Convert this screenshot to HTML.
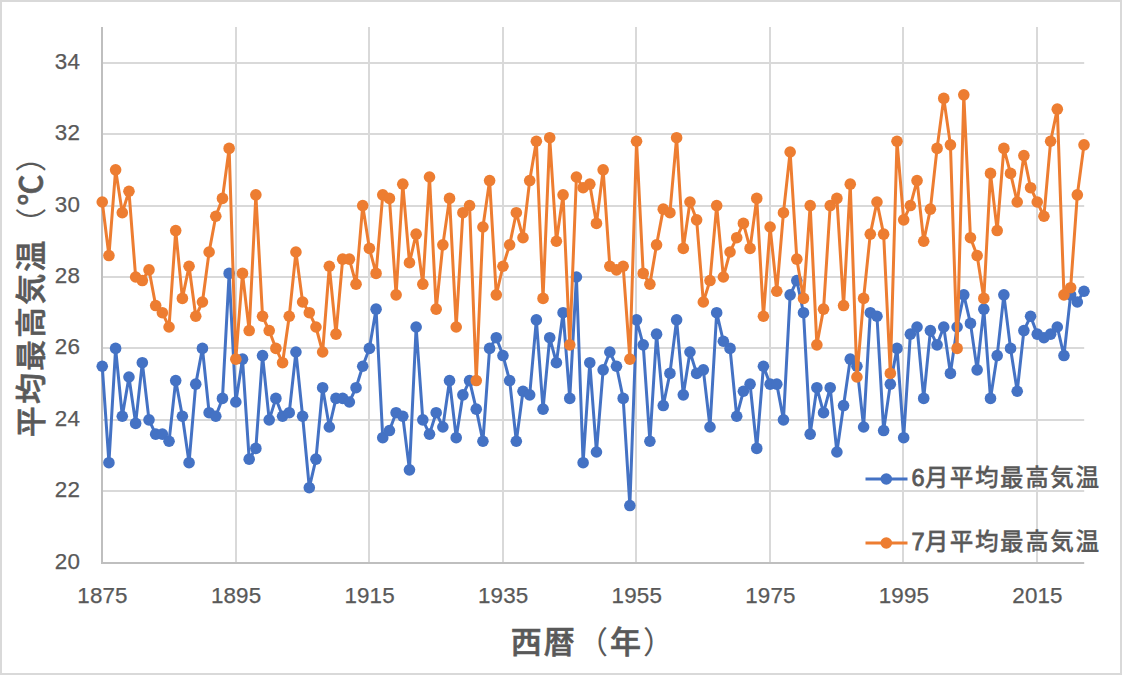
<!DOCTYPE html>
<html lang="ja"><head><meta charset="utf-8"><title>平均最高気温</title>
<style>
html,body{margin:0;padding:0;background:#fff;}
body{width:1122px;height:675px;overflow:hidden;}
svg{display:block;}
text{font-family:"Liberation Sans","Noto Sans CJK JP",sans-serif;fill:#595959;}
.num{font-size:22.4px;letter-spacing:0.15px;stroke:#595959;stroke-width:0.25px;}
.ttl{font-size:31px;font-weight:500;letter-spacing:2.1px;stroke:#595959;stroke-width:0.6px;}
.ttl .p{font-weight:400;stroke-width:0;}
.leg{font-size:23.6px;font-weight:500;letter-spacing:1.55px;stroke:#595959;stroke-width:0.3px;}
.leg .d{stroke-width:0.8px;letter-spacing:0;}
</style></head><body>
<svg width="1122" height="675" viewBox="0 0 1122 675">
<rect x="0" y="0" width="1122" height="675" fill="#fff"/>
<rect x="1" y="1" width="1120" height="673" fill="none" stroke="#D9D9D9" stroke-width="2"/>

<line x1="101.0" y1="491.0" x2="1084.2" y2="491.0" stroke="#D9D9D9" stroke-width="2"/>
<line x1="101.0" y1="420.0" x2="1084.2" y2="420.0" stroke="#D9D9D9" stroke-width="2"/>
<line x1="101.0" y1="348.0" x2="1084.2" y2="348.0" stroke="#D9D9D9" stroke-width="2"/>
<line x1="101.0" y1="277.0" x2="1084.2" y2="277.0" stroke="#D9D9D9" stroke-width="2"/>
<line x1="101.0" y1="206.0" x2="1084.2" y2="206.0" stroke="#D9D9D9" stroke-width="2"/>
<line x1="101.0" y1="134.0" x2="1084.2" y2="134.0" stroke="#D9D9D9" stroke-width="2"/>
<line x1="101.0" y1="63.0" x2="1084.2" y2="63.0" stroke="#D9D9D9" stroke-width="2"/>
<line x1="236.0" y1="27" x2="236.0" y2="562" stroke="#D9D9D9" stroke-width="2"/>
<line x1="369.0" y1="27" x2="369.0" y2="562" stroke="#D9D9D9" stroke-width="2"/>
<line x1="503.0" y1="27" x2="503.0" y2="562" stroke="#D9D9D9" stroke-width="2"/>
<line x1="636.0" y1="27" x2="636.0" y2="562" stroke="#D9D9D9" stroke-width="2"/>
<line x1="770.0" y1="27" x2="770.0" y2="562" stroke="#D9D9D9" stroke-width="2"/>
<line x1="903.0" y1="27" x2="903.0" y2="562" stroke="#D9D9D9" stroke-width="2"/>
<line x1="1037.0" y1="27" x2="1037.0" y2="562" stroke="#D9D9D9" stroke-width="2"/>
<line x1="102.0" y1="27" x2="102.0" y2="564" stroke="#BFBFBF" stroke-width="2"/>
<line x1="101.0" y1="563" x2="1084.2" y2="563" stroke="#BFBFBF" stroke-width="2"/>
<text class="num" x="80.0" y="569.3" text-anchor="end">20</text>
<text class="num" x="80.0" y="497.3" text-anchor="end">22</text>
<text class="num" x="80.0" y="426.3" text-anchor="end">24</text>
<text class="num" x="80.0" y="354.3" text-anchor="end">26</text>
<text class="num" x="80.0" y="283.3" text-anchor="end">28</text>
<text class="num" x="80.0" y="212.3" text-anchor="end">30</text>
<text class="num" x="80.0" y="140.3" text-anchor="end">32</text>
<text class="num" x="80.0" y="69.3" text-anchor="end">34</text>
<text class="num" x="102.5" y="602.6" text-anchor="middle">1875</text>
<text class="num" x="236.1" y="602.6" text-anchor="middle">1895</text>
<text class="num" x="369.6" y="602.6" text-anchor="middle">1915</text>
<text class="num" x="503.2" y="602.6" text-anchor="middle">1935</text>
<text class="num" x="636.8" y="602.6" text-anchor="middle">1955</text>
<text class="num" x="770.4" y="602.6" text-anchor="middle">1975</text>
<text class="num" x="903.9" y="602.6" text-anchor="middle">1995</text>
<text class="num" x="1037.5" y="602.6" text-anchor="middle">2015</text>
<polyline points="102.25,366.27 108.93,462.70 115.61,348.41 122.29,416.27 128.96,376.99 135.64,423.41 142.32,362.70 149.00,419.84 155.68,434.13 162.36,434.13 169.04,441.27 175.71,380.56 182.39,416.27 189.07,462.70 195.75,384.13 202.43,348.41 209.11,412.70 215.79,416.27 222.46,398.41 229.14,273.41 235.82,401.99 242.50,359.13 249.18,459.13 255.86,448.41 262.54,355.56 269.21,419.84 275.89,398.41 282.57,416.27 289.25,412.70 295.93,351.99 302.61,416.27 309.29,487.70 315.96,459.13 322.64,387.70 329.32,426.99 336.00,398.41 342.68,398.41 349.36,401.99 356.04,387.70 362.71,366.27 369.39,348.41 376.07,309.13 382.75,437.70 389.43,430.56 396.11,412.70 402.79,416.27 409.46,469.84 416.14,326.99 422.82,419.84 429.50,434.13 436.18,412.70 442.86,426.99 449.54,380.56 456.21,437.70 462.89,394.84 469.57,380.56 476.25,409.13 482.93,441.27 489.61,348.41 496.29,337.70 502.96,355.56 509.64,380.56 516.32,441.27 523.00,391.27 529.68,394.84 536.36,319.84 543.04,409.13 549.71,337.70 556.39,362.70 563.07,312.70 569.75,398.41 576.43,276.99 583.11,462.70 589.79,362.70 596.46,451.99 603.14,369.84 609.82,351.99 616.50,366.27 623.18,398.41 629.86,505.56 636.54,319.84 643.21,344.84 649.89,441.27 656.57,334.13 663.25,405.56 669.93,373.41 676.61,319.84 683.29,394.84 689.96,351.99 696.64,373.41 703.32,369.84 710.00,426.99 716.68,312.70 723.36,341.27 730.04,348.41 736.71,416.27 743.39,391.27 750.07,384.13 756.75,448.41 763.43,366.27 770.11,384.13 776.79,384.13 783.46,419.84 790.14,294.84 796.82,280.56 803.50,312.70 810.18,434.13 816.86,387.70 823.54,412.70 830.21,387.70 836.89,451.99 843.57,405.56 850.25,359.13 856.93,366.27 863.61,426.99 870.29,312.70 876.96,316.27 883.64,430.56 890.32,384.13 897.00,348.41 903.68,437.70 910.36,334.13 917.04,326.99 923.71,398.41 930.39,330.56 937.07,344.84 943.75,326.99 950.43,373.41 957.11,326.99 963.79,294.84 970.46,323.41 977.14,369.84 983.82,309.13 990.50,398.41 997.18,355.56 1003.86,294.84 1010.54,348.41 1017.21,391.27 1023.89,330.56 1030.57,316.27 1037.25,334.13 1043.93,337.70 1050.61,334.13 1057.29,326.99 1063.96,355.56 1070.64,294.84 1077.32,301.99 1084.00,291.27" fill="none" stroke="#4472C4" stroke-width="3" stroke-linejoin="round" stroke-linecap="round"/>
<g fill="#4472C4">
<circle cx="102.25" cy="366.27" r="5.8"/>
<circle cx="108.93" cy="462.70" r="5.8"/>
<circle cx="115.61" cy="348.41" r="5.8"/>
<circle cx="122.29" cy="416.27" r="5.8"/>
<circle cx="128.96" cy="376.99" r="5.8"/>
<circle cx="135.64" cy="423.41" r="5.8"/>
<circle cx="142.32" cy="362.70" r="5.8"/>
<circle cx="149.00" cy="419.84" r="5.8"/>
<circle cx="155.68" cy="434.13" r="5.8"/>
<circle cx="162.36" cy="434.13" r="5.8"/>
<circle cx="169.04" cy="441.27" r="5.8"/>
<circle cx="175.71" cy="380.56" r="5.8"/>
<circle cx="182.39" cy="416.27" r="5.8"/>
<circle cx="189.07" cy="462.70" r="5.8"/>
<circle cx="195.75" cy="384.13" r="5.8"/>
<circle cx="202.43" cy="348.41" r="5.8"/>
<circle cx="209.11" cy="412.70" r="5.8"/>
<circle cx="215.79" cy="416.27" r="5.8"/>
<circle cx="222.46" cy="398.41" r="5.8"/>
<circle cx="229.14" cy="273.41" r="5.8"/>
<circle cx="235.82" cy="401.99" r="5.8"/>
<circle cx="242.50" cy="359.13" r="5.8"/>
<circle cx="249.18" cy="459.13" r="5.8"/>
<circle cx="255.86" cy="448.41" r="5.8"/>
<circle cx="262.54" cy="355.56" r="5.8"/>
<circle cx="269.21" cy="419.84" r="5.8"/>
<circle cx="275.89" cy="398.41" r="5.8"/>
<circle cx="282.57" cy="416.27" r="5.8"/>
<circle cx="289.25" cy="412.70" r="5.8"/>
<circle cx="295.93" cy="351.99" r="5.8"/>
<circle cx="302.61" cy="416.27" r="5.8"/>
<circle cx="309.29" cy="487.70" r="5.8"/>
<circle cx="315.96" cy="459.13" r="5.8"/>
<circle cx="322.64" cy="387.70" r="5.8"/>
<circle cx="329.32" cy="426.99" r="5.8"/>
<circle cx="336.00" cy="398.41" r="5.8"/>
<circle cx="342.68" cy="398.41" r="5.8"/>
<circle cx="349.36" cy="401.99" r="5.8"/>
<circle cx="356.04" cy="387.70" r="5.8"/>
<circle cx="362.71" cy="366.27" r="5.8"/>
<circle cx="369.39" cy="348.41" r="5.8"/>
<circle cx="376.07" cy="309.13" r="5.8"/>
<circle cx="382.75" cy="437.70" r="5.8"/>
<circle cx="389.43" cy="430.56" r="5.8"/>
<circle cx="396.11" cy="412.70" r="5.8"/>
<circle cx="402.79" cy="416.27" r="5.8"/>
<circle cx="409.46" cy="469.84" r="5.8"/>
<circle cx="416.14" cy="326.99" r="5.8"/>
<circle cx="422.82" cy="419.84" r="5.8"/>
<circle cx="429.50" cy="434.13" r="5.8"/>
<circle cx="436.18" cy="412.70" r="5.8"/>
<circle cx="442.86" cy="426.99" r="5.8"/>
<circle cx="449.54" cy="380.56" r="5.8"/>
<circle cx="456.21" cy="437.70" r="5.8"/>
<circle cx="462.89" cy="394.84" r="5.8"/>
<circle cx="469.57" cy="380.56" r="5.8"/>
<circle cx="476.25" cy="409.13" r="5.8"/>
<circle cx="482.93" cy="441.27" r="5.8"/>
<circle cx="489.61" cy="348.41" r="5.8"/>
<circle cx="496.29" cy="337.70" r="5.8"/>
<circle cx="502.96" cy="355.56" r="5.8"/>
<circle cx="509.64" cy="380.56" r="5.8"/>
<circle cx="516.32" cy="441.27" r="5.8"/>
<circle cx="523.00" cy="391.27" r="5.8"/>
<circle cx="529.68" cy="394.84" r="5.8"/>
<circle cx="536.36" cy="319.84" r="5.8"/>
<circle cx="543.04" cy="409.13" r="5.8"/>
<circle cx="549.71" cy="337.70" r="5.8"/>
<circle cx="556.39" cy="362.70" r="5.8"/>
<circle cx="563.07" cy="312.70" r="5.8"/>
<circle cx="569.75" cy="398.41" r="5.8"/>
<circle cx="576.43" cy="276.99" r="5.8"/>
<circle cx="583.11" cy="462.70" r="5.8"/>
<circle cx="589.79" cy="362.70" r="5.8"/>
<circle cx="596.46" cy="451.99" r="5.8"/>
<circle cx="603.14" cy="369.84" r="5.8"/>
<circle cx="609.82" cy="351.99" r="5.8"/>
<circle cx="616.50" cy="366.27" r="5.8"/>
<circle cx="623.18" cy="398.41" r="5.8"/>
<circle cx="629.86" cy="505.56" r="5.8"/>
<circle cx="636.54" cy="319.84" r="5.8"/>
<circle cx="643.21" cy="344.84" r="5.8"/>
<circle cx="649.89" cy="441.27" r="5.8"/>
<circle cx="656.57" cy="334.13" r="5.8"/>
<circle cx="663.25" cy="405.56" r="5.8"/>
<circle cx="669.93" cy="373.41" r="5.8"/>
<circle cx="676.61" cy="319.84" r="5.8"/>
<circle cx="683.29" cy="394.84" r="5.8"/>
<circle cx="689.96" cy="351.99" r="5.8"/>
<circle cx="696.64" cy="373.41" r="5.8"/>
<circle cx="703.32" cy="369.84" r="5.8"/>
<circle cx="710.00" cy="426.99" r="5.8"/>
<circle cx="716.68" cy="312.70" r="5.8"/>
<circle cx="723.36" cy="341.27" r="5.8"/>
<circle cx="730.04" cy="348.41" r="5.8"/>
<circle cx="736.71" cy="416.27" r="5.8"/>
<circle cx="743.39" cy="391.27" r="5.8"/>
<circle cx="750.07" cy="384.13" r="5.8"/>
<circle cx="756.75" cy="448.41" r="5.8"/>
<circle cx="763.43" cy="366.27" r="5.8"/>
<circle cx="770.11" cy="384.13" r="5.8"/>
<circle cx="776.79" cy="384.13" r="5.8"/>
<circle cx="783.46" cy="419.84" r="5.8"/>
<circle cx="790.14" cy="294.84" r="5.8"/>
<circle cx="796.82" cy="280.56" r="5.8"/>
<circle cx="803.50" cy="312.70" r="5.8"/>
<circle cx="810.18" cy="434.13" r="5.8"/>
<circle cx="816.86" cy="387.70" r="5.8"/>
<circle cx="823.54" cy="412.70" r="5.8"/>
<circle cx="830.21" cy="387.70" r="5.8"/>
<circle cx="836.89" cy="451.99" r="5.8"/>
<circle cx="843.57" cy="405.56" r="5.8"/>
<circle cx="850.25" cy="359.13" r="5.8"/>
<circle cx="856.93" cy="366.27" r="5.8"/>
<circle cx="863.61" cy="426.99" r="5.8"/>
<circle cx="870.29" cy="312.70" r="5.8"/>
<circle cx="876.96" cy="316.27" r="5.8"/>
<circle cx="883.64" cy="430.56" r="5.8"/>
<circle cx="890.32" cy="384.13" r="5.8"/>
<circle cx="897.00" cy="348.41" r="5.8"/>
<circle cx="903.68" cy="437.70" r="5.8"/>
<circle cx="910.36" cy="334.13" r="5.8"/>
<circle cx="917.04" cy="326.99" r="5.8"/>
<circle cx="923.71" cy="398.41" r="5.8"/>
<circle cx="930.39" cy="330.56" r="5.8"/>
<circle cx="937.07" cy="344.84" r="5.8"/>
<circle cx="943.75" cy="326.99" r="5.8"/>
<circle cx="950.43" cy="373.41" r="5.8"/>
<circle cx="957.11" cy="326.99" r="5.8"/>
<circle cx="963.79" cy="294.84" r="5.8"/>
<circle cx="970.46" cy="323.41" r="5.8"/>
<circle cx="977.14" cy="369.84" r="5.8"/>
<circle cx="983.82" cy="309.13" r="5.8"/>
<circle cx="990.50" cy="398.41" r="5.8"/>
<circle cx="997.18" cy="355.56" r="5.8"/>
<circle cx="1003.86" cy="294.84" r="5.8"/>
<circle cx="1010.54" cy="348.41" r="5.8"/>
<circle cx="1017.21" cy="391.27" r="5.8"/>
<circle cx="1023.89" cy="330.56" r="5.8"/>
<circle cx="1030.57" cy="316.27" r="5.8"/>
<circle cx="1037.25" cy="334.13" r="5.8"/>
<circle cx="1043.93" cy="337.70" r="5.8"/>
<circle cx="1050.61" cy="334.13" r="5.8"/>
<circle cx="1057.29" cy="326.99" r="5.8"/>
<circle cx="1063.96" cy="355.56" r="5.8"/>
<circle cx="1070.64" cy="294.84" r="5.8"/>
<circle cx="1077.32" cy="301.99" r="5.8"/>
<circle cx="1084.00" cy="291.27" r="5.8"/>
</g>
<polyline points="102.25,201.99 108.93,255.56 115.61,169.84 122.29,212.70 128.96,191.27 135.64,276.99 142.32,280.56 149.00,269.84 155.68,305.56 162.36,312.70 169.04,326.99 175.71,230.56 182.39,298.41 189.07,266.27 195.75,316.27 202.43,301.99 209.11,251.99 215.79,216.27 222.46,198.41 229.14,148.41 235.82,359.13 242.50,273.41 249.18,330.56 255.86,194.84 262.54,316.27 269.21,330.56 275.89,348.41 282.57,362.70 289.25,316.27 295.93,251.99 302.61,301.99 309.29,312.70 315.96,326.99 322.64,351.99 329.32,266.27 336.00,334.13 342.68,259.13 349.36,259.13 356.04,284.13 362.71,205.56 369.39,248.41 376.07,273.41 382.75,194.84 389.43,198.41 396.11,294.84 402.79,184.13 409.46,262.70 416.14,234.13 422.82,284.13 429.50,176.99 436.18,309.13 442.86,244.84 449.54,198.41 456.21,326.99 462.89,212.70 469.57,205.56 476.25,380.56 482.93,226.99 489.61,180.56 496.29,294.84 502.96,266.27 509.64,244.84 516.32,212.70 523.00,237.70 529.68,180.56 536.36,141.27 543.04,298.41 549.71,137.70 556.39,241.27 563.07,194.84 569.75,344.84 576.43,176.99 583.11,187.70 589.79,184.13 596.46,223.41 603.14,169.84 609.82,266.27 616.50,269.84 623.18,266.27 629.86,359.13 636.54,141.27 643.21,273.41 649.89,284.13 656.57,244.84 663.25,209.13 669.93,212.70 676.61,137.70 683.29,248.41 689.96,201.99 696.64,219.84 703.32,301.99 710.00,280.56 716.68,205.56 723.36,276.99 730.04,251.99 736.71,237.70 743.39,223.41 750.07,248.41 756.75,198.41 763.43,316.27 770.11,226.99 776.79,291.27 783.46,212.70 790.14,151.99 796.82,259.13 803.50,298.41 810.18,205.56 816.86,344.84 823.54,309.13 830.21,205.56 836.89,198.41 843.57,305.56 850.25,184.13 856.93,376.99 863.61,298.41 870.29,234.13 876.96,201.99 883.64,234.13 890.32,373.41 897.00,141.27 903.68,219.84 910.36,205.56 917.04,180.56 923.71,241.27 930.39,209.13 937.07,148.41 943.75,98.41 950.43,144.84 957.11,348.41 963.79,94.84 970.46,237.70 977.14,255.56 983.82,298.41 990.50,173.41 997.18,230.56 1003.86,148.41 1010.54,173.41 1017.21,201.99 1023.89,155.56 1030.57,187.70 1037.25,201.99 1043.93,216.27 1050.61,141.27 1057.29,109.13 1063.96,294.84 1070.64,287.70 1077.32,194.84 1084.00,144.84" fill="none" stroke="#ED7D31" stroke-width="3" stroke-linejoin="round" stroke-linecap="round"/>
<g fill="#ED7D31">
<circle cx="102.25" cy="201.99" r="5.8"/>
<circle cx="108.93" cy="255.56" r="5.8"/>
<circle cx="115.61" cy="169.84" r="5.8"/>
<circle cx="122.29" cy="212.70" r="5.8"/>
<circle cx="128.96" cy="191.27" r="5.8"/>
<circle cx="135.64" cy="276.99" r="5.8"/>
<circle cx="142.32" cy="280.56" r="5.8"/>
<circle cx="149.00" cy="269.84" r="5.8"/>
<circle cx="155.68" cy="305.56" r="5.8"/>
<circle cx="162.36" cy="312.70" r="5.8"/>
<circle cx="169.04" cy="326.99" r="5.8"/>
<circle cx="175.71" cy="230.56" r="5.8"/>
<circle cx="182.39" cy="298.41" r="5.8"/>
<circle cx="189.07" cy="266.27" r="5.8"/>
<circle cx="195.75" cy="316.27" r="5.8"/>
<circle cx="202.43" cy="301.99" r="5.8"/>
<circle cx="209.11" cy="251.99" r="5.8"/>
<circle cx="215.79" cy="216.27" r="5.8"/>
<circle cx="222.46" cy="198.41" r="5.8"/>
<circle cx="229.14" cy="148.41" r="5.8"/>
<circle cx="235.82" cy="359.13" r="5.8"/>
<circle cx="242.50" cy="273.41" r="5.8"/>
<circle cx="249.18" cy="330.56" r="5.8"/>
<circle cx="255.86" cy="194.84" r="5.8"/>
<circle cx="262.54" cy="316.27" r="5.8"/>
<circle cx="269.21" cy="330.56" r="5.8"/>
<circle cx="275.89" cy="348.41" r="5.8"/>
<circle cx="282.57" cy="362.70" r="5.8"/>
<circle cx="289.25" cy="316.27" r="5.8"/>
<circle cx="295.93" cy="251.99" r="5.8"/>
<circle cx="302.61" cy="301.99" r="5.8"/>
<circle cx="309.29" cy="312.70" r="5.8"/>
<circle cx="315.96" cy="326.99" r="5.8"/>
<circle cx="322.64" cy="351.99" r="5.8"/>
<circle cx="329.32" cy="266.27" r="5.8"/>
<circle cx="336.00" cy="334.13" r="5.8"/>
<circle cx="342.68" cy="259.13" r="5.8"/>
<circle cx="349.36" cy="259.13" r="5.8"/>
<circle cx="356.04" cy="284.13" r="5.8"/>
<circle cx="362.71" cy="205.56" r="5.8"/>
<circle cx="369.39" cy="248.41" r="5.8"/>
<circle cx="376.07" cy="273.41" r="5.8"/>
<circle cx="382.75" cy="194.84" r="5.8"/>
<circle cx="389.43" cy="198.41" r="5.8"/>
<circle cx="396.11" cy="294.84" r="5.8"/>
<circle cx="402.79" cy="184.13" r="5.8"/>
<circle cx="409.46" cy="262.70" r="5.8"/>
<circle cx="416.14" cy="234.13" r="5.8"/>
<circle cx="422.82" cy="284.13" r="5.8"/>
<circle cx="429.50" cy="176.99" r="5.8"/>
<circle cx="436.18" cy="309.13" r="5.8"/>
<circle cx="442.86" cy="244.84" r="5.8"/>
<circle cx="449.54" cy="198.41" r="5.8"/>
<circle cx="456.21" cy="326.99" r="5.8"/>
<circle cx="462.89" cy="212.70" r="5.8"/>
<circle cx="469.57" cy="205.56" r="5.8"/>
<circle cx="476.25" cy="380.56" r="5.8"/>
<circle cx="482.93" cy="226.99" r="5.8"/>
<circle cx="489.61" cy="180.56" r="5.8"/>
<circle cx="496.29" cy="294.84" r="5.8"/>
<circle cx="502.96" cy="266.27" r="5.8"/>
<circle cx="509.64" cy="244.84" r="5.8"/>
<circle cx="516.32" cy="212.70" r="5.8"/>
<circle cx="523.00" cy="237.70" r="5.8"/>
<circle cx="529.68" cy="180.56" r="5.8"/>
<circle cx="536.36" cy="141.27" r="5.8"/>
<circle cx="543.04" cy="298.41" r="5.8"/>
<circle cx="549.71" cy="137.70" r="5.8"/>
<circle cx="556.39" cy="241.27" r="5.8"/>
<circle cx="563.07" cy="194.84" r="5.8"/>
<circle cx="569.75" cy="344.84" r="5.8"/>
<circle cx="576.43" cy="176.99" r="5.8"/>
<circle cx="583.11" cy="187.70" r="5.8"/>
<circle cx="589.79" cy="184.13" r="5.8"/>
<circle cx="596.46" cy="223.41" r="5.8"/>
<circle cx="603.14" cy="169.84" r="5.8"/>
<circle cx="609.82" cy="266.27" r="5.8"/>
<circle cx="616.50" cy="269.84" r="5.8"/>
<circle cx="623.18" cy="266.27" r="5.8"/>
<circle cx="629.86" cy="359.13" r="5.8"/>
<circle cx="636.54" cy="141.27" r="5.8"/>
<circle cx="643.21" cy="273.41" r="5.8"/>
<circle cx="649.89" cy="284.13" r="5.8"/>
<circle cx="656.57" cy="244.84" r="5.8"/>
<circle cx="663.25" cy="209.13" r="5.8"/>
<circle cx="669.93" cy="212.70" r="5.8"/>
<circle cx="676.61" cy="137.70" r="5.8"/>
<circle cx="683.29" cy="248.41" r="5.8"/>
<circle cx="689.96" cy="201.99" r="5.8"/>
<circle cx="696.64" cy="219.84" r="5.8"/>
<circle cx="703.32" cy="301.99" r="5.8"/>
<circle cx="710.00" cy="280.56" r="5.8"/>
<circle cx="716.68" cy="205.56" r="5.8"/>
<circle cx="723.36" cy="276.99" r="5.8"/>
<circle cx="730.04" cy="251.99" r="5.8"/>
<circle cx="736.71" cy="237.70" r="5.8"/>
<circle cx="743.39" cy="223.41" r="5.8"/>
<circle cx="750.07" cy="248.41" r="5.8"/>
<circle cx="756.75" cy="198.41" r="5.8"/>
<circle cx="763.43" cy="316.27" r="5.8"/>
<circle cx="770.11" cy="226.99" r="5.8"/>
<circle cx="776.79" cy="291.27" r="5.8"/>
<circle cx="783.46" cy="212.70" r="5.8"/>
<circle cx="790.14" cy="151.99" r="5.8"/>
<circle cx="796.82" cy="259.13" r="5.8"/>
<circle cx="803.50" cy="298.41" r="5.8"/>
<circle cx="810.18" cy="205.56" r="5.8"/>
<circle cx="816.86" cy="344.84" r="5.8"/>
<circle cx="823.54" cy="309.13" r="5.8"/>
<circle cx="830.21" cy="205.56" r="5.8"/>
<circle cx="836.89" cy="198.41" r="5.8"/>
<circle cx="843.57" cy="305.56" r="5.8"/>
<circle cx="850.25" cy="184.13" r="5.8"/>
<circle cx="856.93" cy="376.99" r="5.8"/>
<circle cx="863.61" cy="298.41" r="5.8"/>
<circle cx="870.29" cy="234.13" r="5.8"/>
<circle cx="876.96" cy="201.99" r="5.8"/>
<circle cx="883.64" cy="234.13" r="5.8"/>
<circle cx="890.32" cy="373.41" r="5.8"/>
<circle cx="897.00" cy="141.27" r="5.8"/>
<circle cx="903.68" cy="219.84" r="5.8"/>
<circle cx="910.36" cy="205.56" r="5.8"/>
<circle cx="917.04" cy="180.56" r="5.8"/>
<circle cx="923.71" cy="241.27" r="5.8"/>
<circle cx="930.39" cy="209.13" r="5.8"/>
<circle cx="937.07" cy="148.41" r="5.8"/>
<circle cx="943.75" cy="98.41" r="5.8"/>
<circle cx="950.43" cy="144.84" r="5.8"/>
<circle cx="957.11" cy="348.41" r="5.8"/>
<circle cx="963.79" cy="94.84" r="5.8"/>
<circle cx="970.46" cy="237.70" r="5.8"/>
<circle cx="977.14" cy="255.56" r="5.8"/>
<circle cx="983.82" cy="298.41" r="5.8"/>
<circle cx="990.50" cy="173.41" r="5.8"/>
<circle cx="997.18" cy="230.56" r="5.8"/>
<circle cx="1003.86" cy="148.41" r="5.8"/>
<circle cx="1010.54" cy="173.41" r="5.8"/>
<circle cx="1017.21" cy="201.99" r="5.8"/>
<circle cx="1023.89" cy="155.56" r="5.8"/>
<circle cx="1030.57" cy="187.70" r="5.8"/>
<circle cx="1037.25" cy="201.99" r="5.8"/>
<circle cx="1043.93" cy="216.27" r="5.8"/>
<circle cx="1050.61" cy="141.27" r="5.8"/>
<circle cx="1057.29" cy="109.13" r="5.8"/>
<circle cx="1063.96" cy="294.84" r="5.8"/>
<circle cx="1070.64" cy="287.70" r="5.8"/>
<circle cx="1077.32" cy="194.84" r="5.8"/>
<circle cx="1084.00" cy="144.84" r="5.8"/>
</g>
<line x1="865.5" y1="479" x2="907.5" y2="479" stroke="#4472C4" stroke-width="3"/>
<circle cx="886.3" cy="479" r="5.8" fill="#4472C4"/>
<text class="leg" x="911.5" y="486.0"><tspan class="d">6</tspan>月平均最高気温</text>
<line x1="865.5" y1="543" x2="907.5" y2="543" stroke="#ED7D31" stroke-width="3"/>
<circle cx="886.3" cy="543" r="5.8" fill="#ED7D31"/>
<text class="leg" x="911.5" y="550.0"><tspan class="d">7</tspan>月平均最高気温</text>
<text class="ttl" x="510.7" y="652.9">西暦<tspan class="p">（</tspan>年<tspan class="p">）</tspan></text>
<text class="ttl" transform="translate(41.8,437.2) rotate(-90)">平均最高気温<tspan class="p">（</tspan>℃<tspan class="p">）</tspan></text>
</svg></body></html>
